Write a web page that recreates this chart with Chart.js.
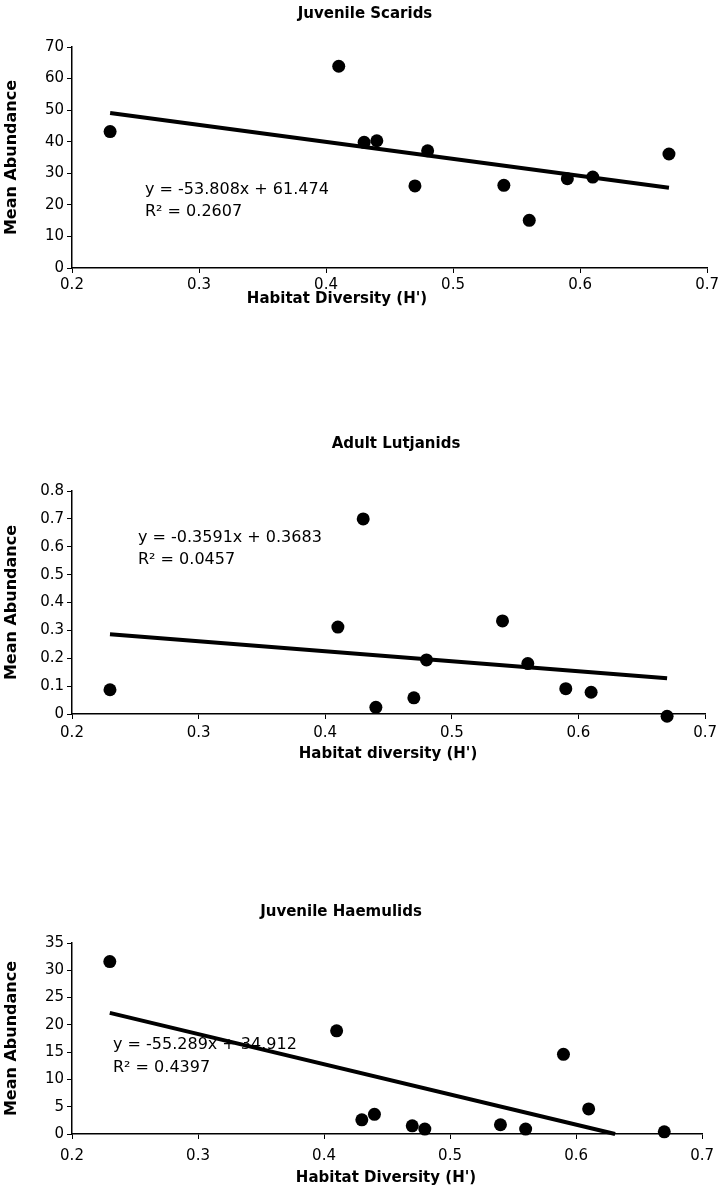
<!DOCTYPE html>
<html>
<head>
<meta charset="utf-8">
<script src="https://cdn.jsdelivr.net/npm/chart.js@4.4.0/dist/chart.umd.min.js"></script>
<style>
  body { margin: 0; background: #fff; width: 722px; height: 1200px; position: relative; overflow: hidden; }
  canvas { position: absolute; left: 0; }
</style>
</head>
<body>
<canvas id="scarids" width="722" height="320" style="top:0px"></canvas>
<canvas id="lutjanids" width="722" height="350" style="top:420px"></canvas>
<canvas id="haemulids" width="722" height="320" style="top:880px"></canvas>
<script>
// habitat diversity (H') per site, shared by the three panels
const habitatH = [0.23, 0.41, 0.43, 0.44, 0.47, 0.48, 0.54, 0.56, 0.59, 0.61, 0.67];

// mean abundance
const scaridsAbund   = [43.2, 63.9, 39.8, 40.3, 26, 37.1, 26.2, 15.1, 28.3, 28.8, 36.1];
const lutjanidsAbund = [0.087, 0.312, 0.70, 0.024, 0.058, 0.194, 0.334, 0.181, 0.091, 0.078, -0.008];
const haemulidsAbund = [31.6, 18.9, 2.6, 3.6, 1.5, 0.9, 1.7, 0.9, 14.6, 4.6, 0.4];

// linear trend lines (end points as drawn)
const scaridsFitX   = [0.23, 0.67];
const scaridsFitY   = [49.1, 25.4];
const lutjanidsFitX = [0.23, 0.67];
const lutjanidsFitY = [0.286, 0.128];
const haemulidsFitX = [0.23, 0.631];
const haemulidsFitY = [22.2, 0];

// axis ticks
const xTicks = [0.2, 0.3, 0.4, 0.5, 0.6, 0.7];
const scaridsYTicks   = [0, 10, 20, 30, 40, 50, 60, 70];
const lutjanidsYTicks = [0, 0.1, 0.2, 0.3, 0.4, 0.5, 0.6, 0.7, 0.8];
const haemulidsYTicks = [0, 5, 10, 15, 20, 25, 30, 35];

const FONT = "'DejaVu Sans', Arial, sans-serif";

// draws titles and equation text at fixed spots on the canvas
const notesPlugin = {
    id: "notes",
    afterDraw(chart, args, opts) {
        const ctx = chart.ctx;
        (opts.items || []).forEach(it => {
            ctx.save();
            ctx.font = it.font;
            ctx.fillStyle = "#000";
            ctx.textAlign = it.align || "left";
            ctx.textBaseline = "middle";
            ctx.fillText(it.text, it.x, it.y);
            ctx.restore();
        });
    }
};

function toPoints(xs, ys) {
    return xs.map((x, i) => ({ x: x, y: ys[i] }));
}

function makeChart(id, cfg) {
    const yDec = cfg.yDec;
    new Chart(document.getElementById(id), {
        type: "scatter",
        data: {
            datasets: [
                {
                    data: toPoints(habitatH, cfg.values),
                    backgroundColor: "#000",
                    borderWidth: 0,
                    pointRadius: 6.5,
                    clip: false
                },
                {
                    type: "line",
                    data: toPoints(cfg.fitX, cfg.fitY),
                    borderColor: "#000",
                    borderWidth: 4,
                    pointRadius: 0,
                    fill: false,
                    clip: false
                }
            ]
        },
        options: {
            responsive: false,
            animation: false,
            devicePixelRatio: 1,
            layout: { padding: { top: cfg.areaTop, right: 14, bottom: cfg.padBottom, left: 0 } },
            plugins: {
                legend: { display: false },
                tooltip: { enabled: false },
                notes: { items: cfg.notes }
            },
            scales: {
                x: {
                    type: "linear",
                    min: xTicks[0],
                    max: xTicks[xTicks.length - 1],
                    afterBuildTicks: s => { s.ticks = xTicks.map(v => ({ value: v })); },
                    afterFit: s => { s.height = 30; },
                    ticks: {
                        color: "#000",
                        font: { family: FONT, size: 15 },
                        padding: cfg.xPad,
                        maxRotation: 0,
                        callback: v => v.toFixed(1)
                    },
                    grid: { drawOnChartArea: false, drawTicks: true, tickLength: 5, color: "#000" },
                    border: { display: true, color: "#000", width: 1.5 }
                },
                y: {
                    min: cfg.yTicks[0],
                    max: cfg.yTicks[cfg.yTicks.length - 1],
                    afterBuildTicks: s => { s.ticks = cfg.yTicks.map(v => ({ value: v })); },
                    afterFit: s => { s.width = 72; },
                    ticks: {
                        color: "#000",
                        font: { family: FONT, size: 15 },
                        padding: 3,
                        callback: v => v === 0 ? "0" : v.toFixed(yDec)
                    },
                    grid: { drawOnChartArea: false, drawTicks: true, tickLength: 5, color: "#000" },
                    border: { display: true, color: "#000", width: 1.5 },
                    title: {
                        display: true,
                        text: "Mean Abundance",
                        color: "#000",
                        font: { family: FONT, size: 16, weight: "bold" },
                        padding: { top: 2, bottom: 0 }
                    }
                }
            }
        },
        plugins: [notesPlugin]
    });
}

const titleFont = "bold 15px " + FONT;
const axisFont = "bold 15px " + FONT;
const eqFont = "16px " + FONT;

makeChart("scarids", {
    values: scaridsAbund, fitX: scaridsFitX, fitY: scaridsFitY,
    yTicks: scaridsYTicks, yDec: 0, areaTop: 47, padBottom: 22, xPad: 3,
    notes: [
        { text: "Juvenile Scarids", x: 365, y: 14, font: titleFont, align: "center" },
        { text: "Habitat Diversity (H')", x: 337, y: 299, font: axisFont, align: "center" },
        { text: "y = -53.808x + 61.474", x: 145, y: 190, font: eqFont },
        { text: "R\u00B2 = 0.2607", x: 145, y: 212, font: eqFont }
    ]
});

makeChart("lutjanids", {
    values: lutjanidsAbund, fitX: lutjanidsFitX, fitY: lutjanidsFitY,
    yTicks: lutjanidsYTicks, yDec: 1, areaTop: 71, padBottom: 26, xPad: 5,
    notes: [
        { text: "Adult Lutjanids", x: 396, y: 24, font: titleFont, align: "center" },
        { text: "Habitat diversity (H')", x: 388, y: 334, font: axisFont, align: "center" },
        { text: "y = -0.3591x + 0.3683", x: 138, y: 118, font: eqFont },
        { text: "R\u00B2 = 0.0457", x: 138, y: 140, font: eqFont }
    ]
});

makeChart("haemulids", {
    values: haemulidsAbund, fitX: haemulidsFitX, fitY: haemulidsFitY,
    yTicks: haemulidsYTicks, yDec: 0, areaTop: 63, padBottom: 36, xPad: 8,
    notes: [
        { text: "Juvenile Haemulids", x: 341, y: 32, font: titleFont, align: "center" },
        { text: "Habitat Diversity (H')", x: 386, y: 298, font: axisFont, align: "center" },
        { text: "y = -55.289x + 34.912", x: 113, y: 165, font: eqFont },
        { text: "R\u00B2 = 0.4397", x: 113, y: 188, font: eqFont }
    ]
});
</script>
</body>
</html>
